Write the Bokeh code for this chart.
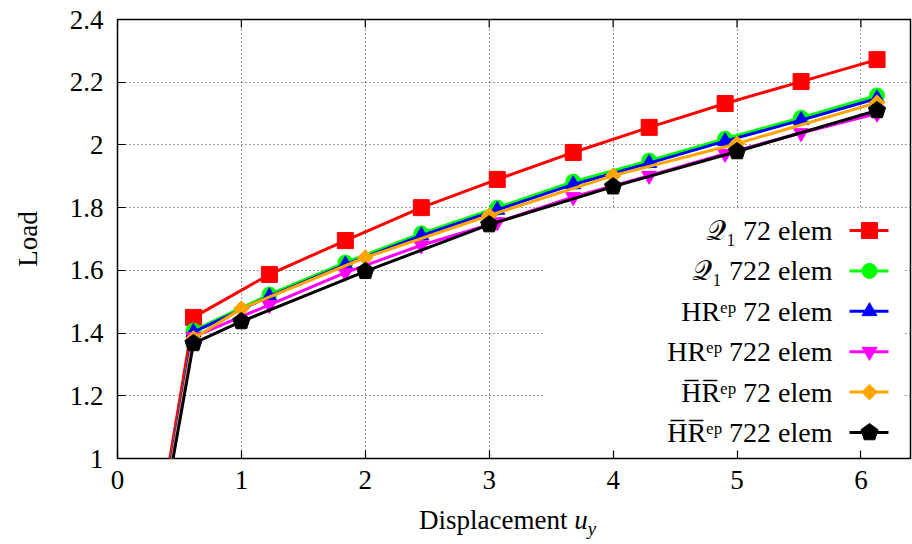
import numpy as np
from bokeh.plotting import figure
from bokeh.layouts import column
from bokeh.models import Range1d, FixedTicker, NumeralTickFormatter, Label, BoxAnnotation, Div
from bokeh.embed import file_html
from bokeh.resources import INLINE

# ---------------- data ----------------
x_q1 = [0.0, 0.613, 1.226, 1.839, 2.452, 3.065, 3.678, 4.291, 4.904, 5.517, 6.130]
q1_72 = [0.0, 1.450, 1.587, 1.695, 1.800, 1.890, 1.976, 2.056, 2.132, 2.202, 2.272]
q1_722 = [0.0, 1.408, 1.523, 1.625, 1.718, 1.800, 1.883, 1.950, 2.020, 2.087, 2.158]
hr_72 = [0.0, 1.403, 1.517, 1.618, 1.711, 1.793, 1.874, 1.942, 2.012, 2.079, 2.148]
hr_722 = [0.0, 1.388, 1.490, 1.593, 1.680, 1.754, 1.834, 1.902, 1.972, 2.038, 2.100]
x_hrbar = [0.0, 0.613, 1.0, 2.0, 3.0, 4.0, 5.0, 6.13]
hrbar_72 = [0.0, 1.383, 1.478, 1.641, 1.775, 1.902, 2.004, 2.135]
hrbar_722 = [0.0, 1.367, 1.437, 1.597, 1.746, 1.867, 1.979, 2.110]

x_ticks = [0, 1, 2, 3, 4, 5, 6]
y_ticks = [1.0, 1.2, 1.4, 1.6, 1.8, 2.0, 2.2, 2.4]
series_labels = ["𝒬₁ 72 elem", "𝒬₁ 722 elem", "HRᵉᵖ 72 elem", "HRᵉᵖ 722 elem",
                 "H̅R̅ᵉᵖ 72 elem", "H̅R̅ᵉᵖ 722 elem"]
x_title_html = "Displacement <i>u</i><sub style='font-size:70%'><i>y</i></sub>"
y_title = "Load"

# ---------------- layout ----------------
W, H = 912, 544
H1 = 503                      # main figure height; the rest holds the x title
BL, BR, BT, BB = 117, 2, 19, 45
FW, FH = W - BL - BR, H1 - BT - BB
X0, X1, Y0, Y1 = 0.0, 6.4, 1.0, 2.4
FONT = "Liberation Serif"
FS = "27px"
KEY_FS = "28px"


def dx(px):
    return X0 + (px - BL) / FW * (X1 - X0)


def dy(py):
    return Y1 - (py - BT) / FH * (Y1 - Y0)


p = figure(width=W, height=H1, x_range=Range1d(X0, X1), y_range=Range1d(Y0, Y1),
           output_backend="svg", toolbar_location=None,
           min_border_left=BL, min_border_right=BR, min_border_top=BT, min_border_bottom=BB)
p.background_fill_color = "white"
p.border_fill_color = "white"
p.outline_line_color = "black"
p.outline_line_width = 1.5

for ax in (p.xaxis[0], p.yaxis[0]):
    ax.axis_line_color = None
    ax.major_tick_in = 8
    ax.major_tick_out = 0
    ax.major_tick_line_color = "black"
    ax.major_tick_line_width = 1.2
    ax.minor_tick_line_color = None
    ax.major_label_text_font = FONT
    ax.major_label_text_font_size = FS
    ax.major_label_text_font_style = "normal"
    ax.major_label_text_color = "black"
    ax.axis_label_text_font = FONT
    ax.axis_label_text_font_size = FS
    ax.axis_label_text_font_style = "normal"
    ax.axis_label_text_color = "black"

p.xaxis[0].ticker = FixedTicker(ticks=x_ticks)
p.yaxis[0].ticker = FixedTicker(ticks=y_ticks)
p.yaxis[0].formatter = NumeralTickFormatter(format="0.[0]")
p.xaxis[0].major_label_standoff = 12
p.yaxis[0].major_label_standoff = 14
p.yaxis[0].axis_label = y_title
p.yaxis[0].axis_label_standoff = 24

for g in (p.xgrid[0], p.ygrid[0]):
    g.grid_line_color = "black"
    g.grid_line_alpha = 0.8
    g.grid_line_dash = "1 3"
    g.grid_line_width = 1
p.xgrid[0].ticker = FixedTicker(ticks=x_ticks)
p.ygrid[0].ticker = FixedTicker(ticks=y_ticks)

# mirrored ticks on the top edge
p.segment(x0=x_ticks, x1=x_ticks, y0=[Y1] * len(x_ticks), y1=[dy(BT + 8)] * len(x_ticks),
          line_color="black", line_width=1.2)

# opaque key box
key_box = BoxAnnotation(left=dx(543), right=dx(903), top=dy(209), bottom=dy(455),
                        fill_color="white", fill_alpha=1.0, line_color=None, level="underlay")
p.add_layout(key_box)

LW = 3
styles = [
    (x_q1, q1_72, "#ff0000", "square", 16, 0.0),
    (x_q1, q1_722, "#00ff00", "circle", 15, 0.0),
    (x_q1, hr_72, "#0000ff", "triangle", 15, 0.0),
    (x_q1, hr_722, "#ff00ff", "inverted_triangle", 15, 0.0),
    (x_hrbar, hrbar_72, "#ffa500", "square", 11, np.pi / 4),
    (x_hrbar, hrbar_722, "#000000", "pentagon", 9, 0.0),
]


def draw_marker(xs, ys, color, marker, size, angle):
    if marker == "pentagon":
        try:
            p.ngon(x=xs, y=ys, radius=size, radius_units="screen", n=5, angle=0.0,
                   fill_color=color, line_color=color)
            return
        except Exception:
            p.scatter(xs, ys, marker="hex", size=2 * size, fill_color=color, line_color=color)
            return
    p.scatter(xs, ys, marker=marker, size=size, angle=angle, fill_color=color, line_color=color)


for xs, ys, color, marker, size, angle in styles:
    p.line(xs, ys, line_color=color, line_width=LW)
    draw_marker(xs, ys, color, marker, size, angle)

# key entries
for i, ((xs, ys, color, marker, size, angle), lab) in enumerate(zip(styles, series_labels)):
    yk = dy(230 + i * 40.4)
    p.line([dx(849), dx(888)], [yk, yk], line_color=color, line_width=LW)
    draw_marker([dx(869)], [yk], color, marker, size, angle)
    p.add_layout(Label(x=dx(832), y=yk, text=lab, text_align="right", text_baseline="middle",
                       text_font=FONT, text_font_size=KEY_FS, text_color="black"))

# ---------------- x title strip ----------------
H2 = H - H1
title_div = Div(text=x_title_html, width=W, height=H2, margin=(0, 0, 0, 0),
                styles={"font-family": "'Liberation Serif', serif", "font-size": FS,
                        "color": "black", "padding-left": "419px", "padding-top": "2px",
                        "line-height": "normal", "white-space": "nowrap",
                        "box-sizing": "border-box", "background": "white"})

layout = column(p, title_div, spacing=0)
open("out.html", "w").write(file_html(layout, INLINE))
